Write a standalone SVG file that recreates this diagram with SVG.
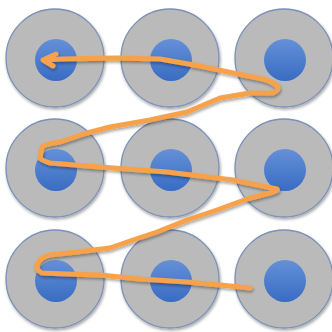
<svg xmlns="http://www.w3.org/2000/svg" width="332" height="332" viewBox="0 0 332 332">
<defs>
<linearGradient id="blue" x1="0" y1="0" x2="0" y2="1">
<stop offset="0" stop-color="#6590d8"/>
<stop offset="1" stop-color="#386cc2"/>
</linearGradient>
<filter id="sh" x="-20%" y="-20%" width="140%" height="140%">
<feGaussianBlur in="SourceAlpha" stdDeviation="1.5"/>
<feOffset dx="1" dy="2"/>
<feComponentTransfer><feFuncA type="linear" slope="0.35"/></feComponentTransfer>
<feMerge><feMergeNode/><feMergeNode in="SourceGraphic"/></feMerge>
</filter>
<g id="dot">
<circle r="49" fill="#bababa" stroke="#7b91b8" stroke-width="1.3"/>
<circle cx="1" cy="2" r="21" fill="url(#blue)"/>
</g>
</defs>
<style>
.line{fill:none;stroke:#f7a24b;stroke-width:5;stroke-linecap:round;stroke-linejoin:round}
</style>
<rect width="332" height="332" fill="#ffffff"/>
<g id="n1" filter="url(#sh)"><use href="#dot" x="55" y="58"/></g>
<g id="n2" filter="url(#sh)"><use href="#dot" x="170" y="58"/></g>
<g id="n3" filter="url(#sh)"><use href="#dot" x="284" y="58"/></g>
<g id="n4" filter="url(#sh)"><use href="#dot" x="55" y="168"/></g>
<g id="n5" filter="url(#sh)"><use href="#dot" x="170" y="168"/></g>
<g id="n6" filter="url(#sh)"><use href="#dot" x="284" y="168"/></g>
<g id="n7" filter="url(#sh)"><use href="#dot" x="55" y="279"/></g>
<g id="n8" filter="url(#sh)"><use href="#dot" x="170" y="279"/></g>
<g id="n9" filter="url(#sh)"><use href="#dot" x="284" y="279"/></g>
<g id="connectors" filter="url(#sh)">
<path class="line" d="M250,288 L220,285 L187,282 L140,279 L100,275 L67,274 L42,273 Q36,270 37,265 Q40,257 50,255 L77,252 L110,248 L133,240 L157,232 L187,220 L217,210 L247,199 L262,195 Q280,191 277,189 L233,180 L167,172 L100,167 L50,163 Q40,160 40,158 L42,147 Q45,144 60,142 L87,133 L110,127 L150,120 L187,112 L220,98 L250,93 L273,93 Q280,90 277,86 Q270,80 258,78 L233,73 L200,66 L160,59 L117,58 L62,59 L44,60"/>
<path class="line" d="M56,54 L43,60 L53,66" stroke-width="4.5"/>
</g>
</svg>
